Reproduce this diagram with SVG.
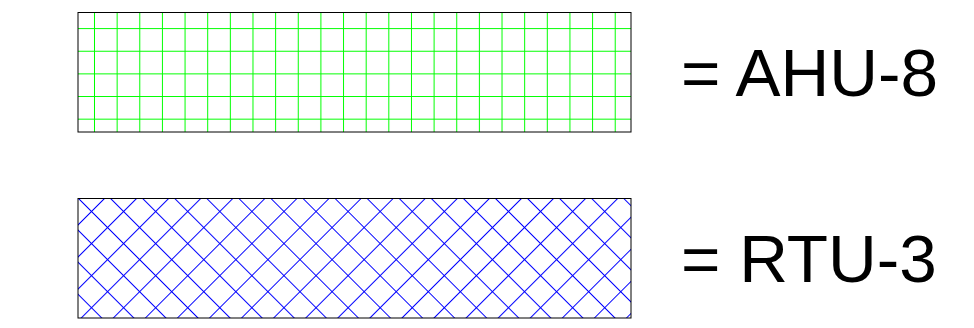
<svg xmlns="http://www.w3.org/2000/svg" width="974" height="328" viewBox="0 0 974 328">
  <style>
    .box { stroke: #000000; stroke-width: 1; }
    .label { font-family: "Liberation Sans", Arial, sans-serif; font-size: 67.5px; fill: #000000; }
  </style>
  <defs>
    <pattern id="gridGreen" patternUnits="userSpaceOnUse" x="83.18" y="17.28" width="22.64" height="22.64">
      <path d="M11.32 0 V22.64 M0 11.32 H22.64" stroke="#00ff00" stroke-width="1" fill="none"/>
    </pattern>
    <pattern id="gridBlue" patternUnits="userSpaceOnUse" x="202.91" y="73.51" width="22.68" height="22.68" patternTransform="rotate(45)">
      <path d="M11.34 0 V22.68 M0 11.34 H22.68" stroke="#0000ff" stroke-width="1" fill="none"/>
    </pattern>
  </defs>
  <rect width="974" height="328" fill="#ffffff"/>
  <g id="legend-ahu8">
    <rect class="box" x="78" y="12.5" width="553" height="119.5" fill="url(#gridGreen)"/>
    <text class="label" x="681" y="95.5">= AHU-8</text>
  </g>
  <g id="legend-rtu3">
    <rect class="box" x="78" y="198.5" width="553" height="119.5" fill="url(#gridBlue)"/>
    <text class="label" x="681" y="281.5">= RTU-3</text>
  </g>
  <g id="connectors"></g>
</svg>
